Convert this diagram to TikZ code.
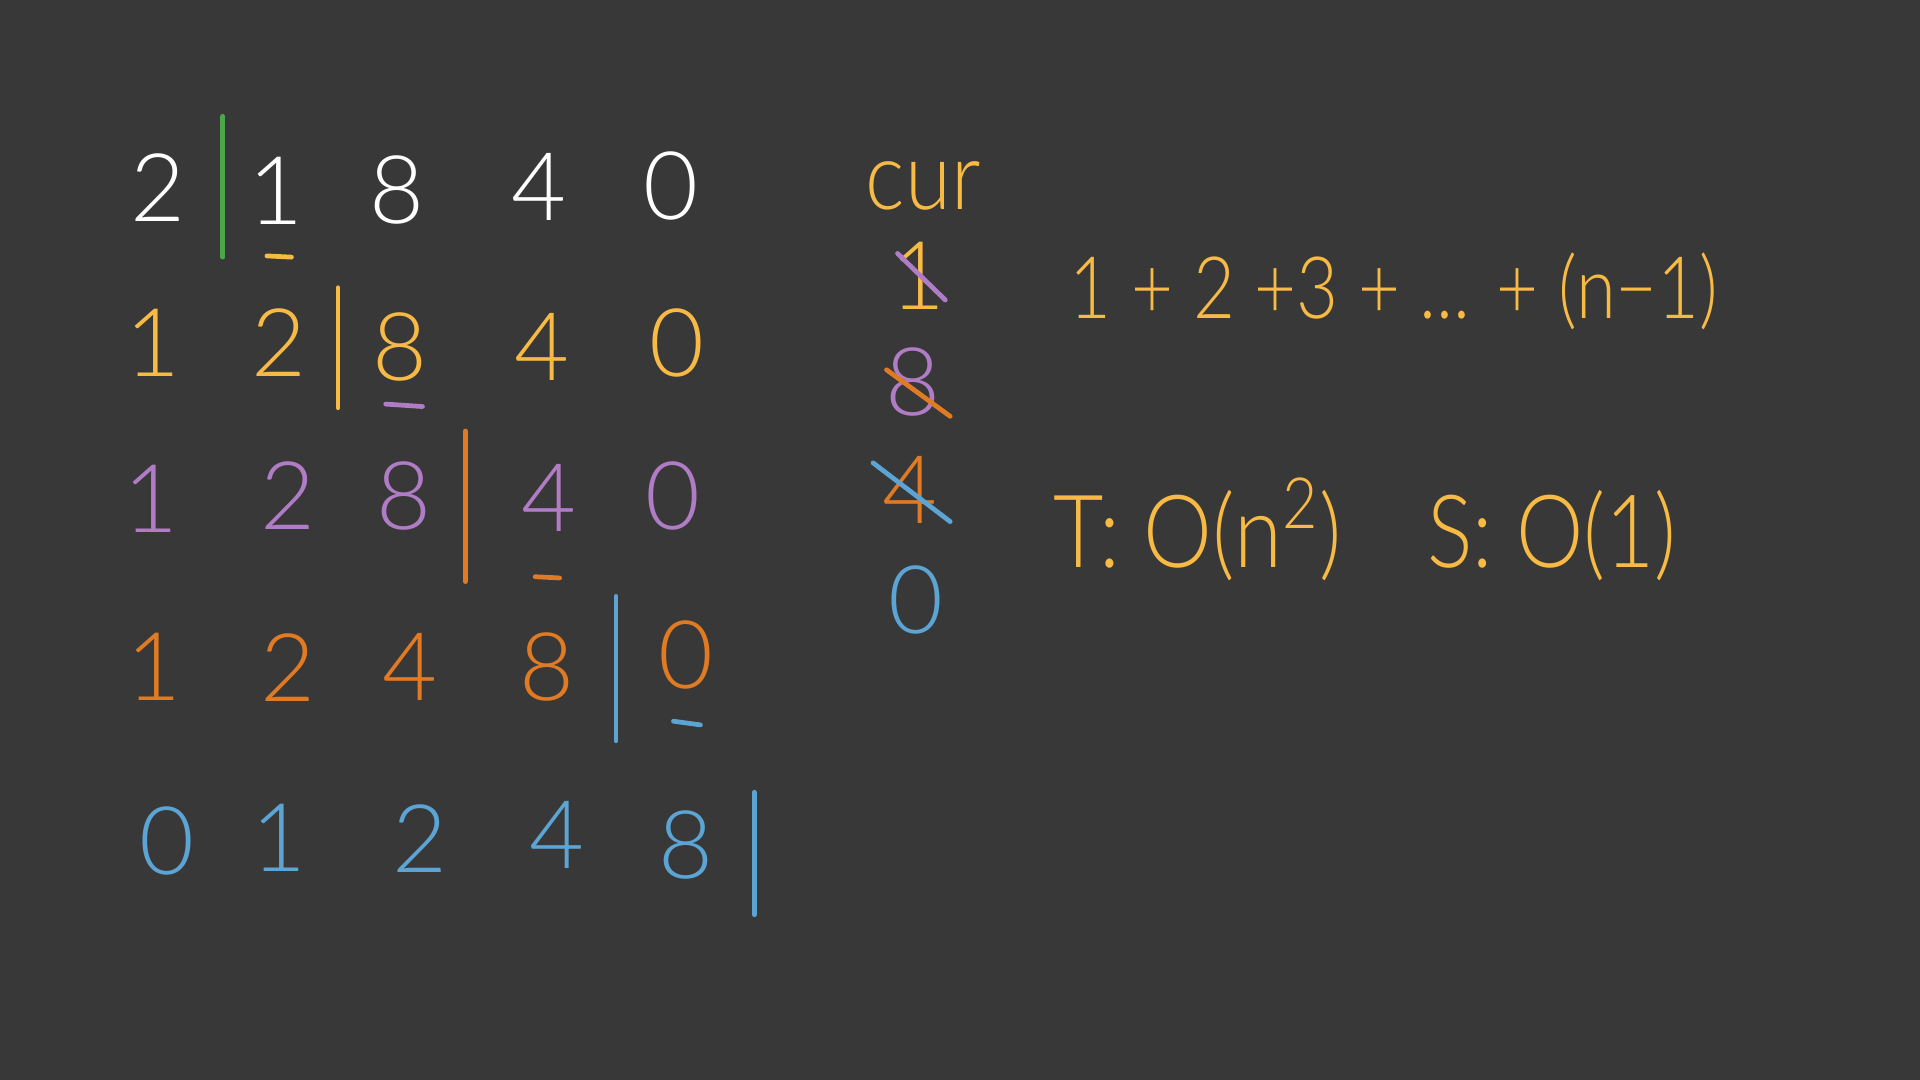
\documentclass[tikz,border=0pt]{standalone}
\usepackage{fontspec}
\setmainfont{Lato}[UprightFont=* Light]
\definecolor{bg}{HTML}{383838}
\definecolor{hwhite}{HTML}{FFFFFF}
\definecolor{hyellow}{HTML}{F7BA45}
\definecolor{hpurple}{HTML}{B07CC6}
\definecolor{horange}{HTML}{E07B24}
\definecolor{hblue}{HTML}{5BA4D4}
\definecolor{hgreen}{HTML}{4CA64C}
\begin{document}
\begin{tikzpicture}[x=0.01cm,y=-0.01cm,
  dig/.style={inner sep=0pt,font=\fontsize{22}{22}\selectfont},
  txt/.style={inner sep=0pt,anchor=west,text=hyellow,font=\fontsize{20}{20}\selectfont},
  bar/.style={line width=1.1pt,line cap=round},
  ubar/.style={line width=1.1pt,line cap=round}]
\fill[bg] (0,0) rectangle (1568,882);
\useasboundingbox (0,0) rectangle (1568,882);
% row 1
\node[dig,text=hwhite] (a1) at (129,153) {2};
\node[dig,text=hwhite] (a2) at (225,156) {1};
\node[dig,text=hwhite] (a3) at (324,155) {8};
\node[dig,text=hwhite] (a4) at (440,153) {4};
\node[dig,text=hwhite] (a5) at (548,152) {0};
\draw[bar,hgreen] (182,95) -- (182,210);
\draw[ubar,hyellow] (218,209) -- (238,210);
% row 2
\node[dig,text=hyellow] (b1) at (125,280) {1};
\node[dig,text=hyellow] (b2) at (228,280) {2};
\node[dig,text=hyellow] (b3) at (327,283) {8};
\node[dig,text=hyellow] (b4) at (443,283) {4};
\node[dig,text=hyellow] (b5) at (553,280) {0};
\draw[bar,hyellow] (276,235) -- (276,333);
\draw[ubar,hpurple] (315,330) -- (345,332);
% row 3
\node[dig,text=hpurple] (c1) at (123,407) {1};
\node[dig,text=hpurple] (c2) at (235,405) {2};
\node[dig,text=hpurple] (c3) at (330,405) {8};
\node[dig,text=hpurple] (c4) at (448,407) {4};
\node[dig,text=hpurple] (c5) at (550,405) {0};
\draw[bar,horange] (380,352) -- (380,475);
\draw[ubar,horange] (437,471) -- (457,472);
% row 4
\node[dig,text=horange] (d1) at (126,545) {1};
\node[dig,text=horange] (d2) at (235,545) {2};
\node[dig,text=horange] (d3) at (335,545) {4};
\node[dig,text=horange] (d4) at (447,545) {8};
\node[dig,text=horange] (d5) at (560,535) {0};
\draw[bar,hblue] (503,487) -- (503,605);
\draw[ubar,hblue] (550,589) -- (572,592);
% row 5
\node[dig,text=hblue] (e1) at (136,687) {0};
\node[dig,text=hblue] (e2) at (228,684) {1};
\node[dig,text=hblue] (e3) at (343,685) {2};
\node[dig,text=hblue] (e4) at (455,682) {4};
\node[dig,text=hblue] (e5) at (560,690) {8};
\draw[bar,hblue] (616,647) -- (616,747);
% cur column
\node[dig,text=hyellow] (cur) at (754,152) {\scalebox{0.88}[1]{cur}};
\node[dig,text=hyellow] (k1) at (750,225) {1};
\draw[bar,hpurple] (733,207) -- (772,245);
\node[dig,text=hpurple] (k2) at (746,312) {8};
\draw[bar,horange] (724,302) -- (776,340);
\node[dig,text=horange] (k3) at (743,400) {4};
\draw[bar,hblue] (713,378) -- (776,426);
\node[dig,text=hblue] (k4) at (748,490) {0};
% formulas
\node[txt] (sum) at (873,238) {\scalebox{0.84}[1]{1 + 2 +3 + ... + (n−1)}};
\node[txt,font=\fontsize{23.5}{23.5}\selectfont] (tc) at (860,432) {\scalebox{0.86}[1]{T: O(n\textsuperscript{2})}};
\node[txt,font=\fontsize{23.5}{23.5}\selectfont] (sc) at (1165,437) {\scalebox{0.84}[1]{S: O(1)}};
\end{tikzpicture}
\end{document}
